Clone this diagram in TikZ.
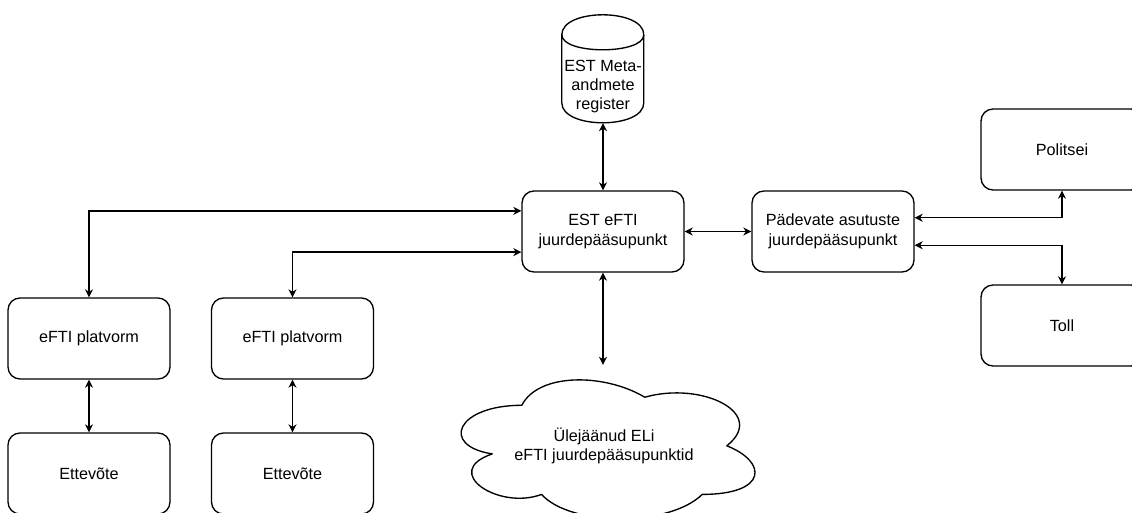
\documentclass[tikz,border=0pt]{standalone}
\usepackage{fontspec}
\setmainfont{Liberation Sans}
\usetikzlibrary{arrows.meta,calc}

\tikzset{
  box/.style={draw=black, line width=1.35pt, rounded corners=12pt, fill=white,
    minimum width=162pt, minimum height=81pt, inner sep=2pt, align=center,
    font=\fontsize{16.2}{19.4}\selectfont},
  plain/.style={inner sep=0pt, minimum width=#1, align=center,
    font=\fontsize{16.2}{19.4}\selectfont},
  link/.style={line width=1.35pt, {Stealth[length=8pt,width=8pt,inset=2.5pt]}-{Stealth[length=8pt,width=8pt,inset=2.5pt]}},
  outline/.style={draw=black, line width=1.35pt, fill=white, line join=round},
}

\begin{document}
\begin{tikzpicture}[x=1pt, y=-1pt]
\useasboundingbox (0,0) rectangle (1132,513);
\clip (0,0) rectangle (1132,513);

% central access points
\node[box] (est) at (603,231.5) {EST eFTI\\juurdepääsupunkt};
\node[box] (pad) at (833,231.5) {Pädevate asutuste\\juurdepääsupunkt};

% authorities
\node[box] (pol)  at (1062,149.5) {Politsei};
\node[box] (toll) at (1062,325.5) {Toll};

% platforms and companies
\node[box] (p1) at (89,338.5)  {eFTI platvorm};
\node[box] (p2) at (292.5,338.5) {eFTI platvorm};
\node[box] (e1) at (89,473.5)  {Ettevõte};
\node[box] (e2) at (292.5,473.5) {Ettevõte};

% metadata register (cylinder)
\node[minimum width=82pt, minimum height=108pt, inner sep=0pt] (meta) at (603,69) {};
\begin{scope}[shift={(meta.north west)}]
  \path[outline] (0,20) .. controls (0,-6.67) and (82,-6.67) .. (82,20)
    -- (82,88) .. controls (82,114.67) and (0,114.67) .. (0,88) -- cycle;
  \draw[line width=1.35pt] (0,20) .. controls (0,40) and (82,40) .. (82,20);
\end{scope}
\node[plain=82pt] (metatext) at (603,86.5) {EST Meta-\\andmete\\register};

% other EU access points (cloud)
\node[minimum width=328pt, minimum height=162pt, inner sep=0pt] (cloud) at (604,446) {};
\begin{scope}[shift={(cloud.north west)}, x=328pt, y=-162pt]
  \path[outline] (0.25,0.25)
    .. controls (0.05,0.25) and (0,0.5) .. (0.16,0.55)
    .. controls (0,0.66) and (0.18,0.9) .. (0.31,0.8)
    .. controls (0.4,1) and (0.7,1) .. (0.8,0.8)
    .. controls (1,0.8) and (1,0.6) .. (0.875,0.5)
    .. controls (1,0.3) and (0.8,0.1) .. (0.625,0.2)
    .. controls (0.5,0.05) and (0.3,0.05) .. (0.25,0.25) -- cycle;
\end{scope}
\node[plain=300pt] (cloudtext) at (604,446) {Ülejäänud ELi\\eFTI juurdepääsupunktid};

% connectors
\draw[link] (p1.north) |- ($(est.north west)!0.25!(est.south west)$);
\draw[link] (p2.north) |- ($(est.north west)!0.75!(est.south west)$);
\draw[link] (p1.south) -- (e1.north);
\draw[link] (p2.south) -- (e2.north);
\draw[link] (meta.south) -- (est.north);
\draw[link] (est.east) -- (pad.west);
\draw[link] (est.south) -- (est.south |- cloud.north);
\draw[link] ($(pad.north east)!0.333!(pad.south east)$) -| (pol.south);
\draw[link] ($(pad.north east)!0.667!(pad.south east)$) -| (toll.north);
\end{tikzpicture}
\end{document}
